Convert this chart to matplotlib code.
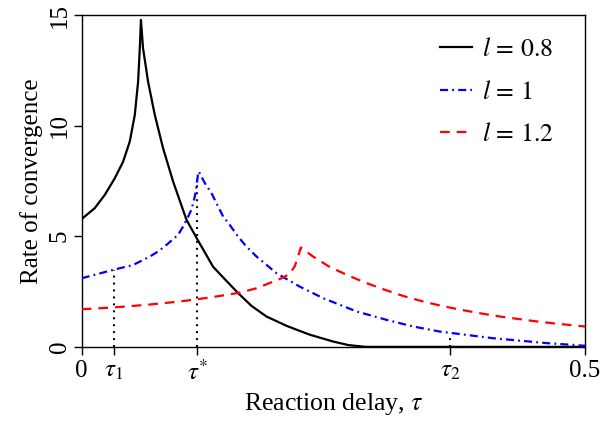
import matplotlib
matplotlib.use("Agg")
import matplotlib.pyplot as plt

plt.rcParams['font.family'] = ['Liberation Serif', 'DejaVu Serif']
plt.rcParams['mathtext.fontset'] = 'stix'
plt.rcParams['lines.scale_dashes'] = False

# l = 0.8 (black solid)
x_l08 = [0, 0.0129, 0.0229, 0.0328, 0.0411, 0.0477, 0.0527, 0.0560, 0.0577, 0.0588,
         0.0609, 0.0659, 0.0726, 0.0808, 0.0908, 0.1041, 0.115, 0.1305, 0.1438,
         0.1554, 0.1687, 0.1836, 0.2035, 0.2167, 0.2266, 0.2498, 0.265, 0.282, 0.5]
y_l08 = [5.78, 6.27, 6.87, 7.62, 8.37, 9.28, 10.48, 11.99, 13.5, 14.78,
         13.5, 11.99, 10.48, 8.98, 7.47, 5.74, 4.85, 3.62, 2.98,
         2.43, 1.85, 1.37, 0.95, 0.72, 0.55, 0.24, 0.08, 0.0, 0.0]

# l = 1 (blue dash-dot)
x_l1 = [0, 0.0311, 0.051, 0.0676, 0.0758, 0.0842, 0.0957, 0.1007, 0.1041, 0.109,
        0.1123, 0.114, 0.1156, 0.1163, 0.1206, 0.1223, 0.1289, 0.1339, 0.1405,
        0.1471, 0.1554, 0.1637, 0.1737, 0.1935, 0.2167, 0.2399, 0.2731, 0.3029,
        0.3293, 0.3559, 0.3824, 0.4088, 0.4354, 0.4619, 0.5]
y_l1 = [3.1, 3.48, 3.7, 4.08, 4.31, 4.61, 5.06, 5.44, 5.74, 6.2,
        6.79, 7.24, 7.85, 7.93, 7.55, 7.4, 6.95, 6.49, 5.89,
        5.51, 4.98, 4.53, 4.08, 3.33, 2.72, 2.2, 1.6, 1.22,
        0.92, 0.69, 0.54, 0.39, 0.28, 0.17, 0.05]

# l = 1.2 (red dashed)
x_l12 = [0, 0.0311, 0.0643, 0.0974, 0.1173, 0.1372, 0.1571, 0.1737, 0.1985,
         0.2068, 0.2117, 0.2157, 0.2177, 0.2299, 0.2468, 0.265, 0.283, 0.3012,
         0.3194, 0.3393, 0.3576, 0.3774, 0.3956, 0.4155, 0.4354, 0.4553, 0.4735, 0.5]
y_l12 = [1.70, 1.78, 1.9, 2.05, 2.17, 2.3, 2.45, 2.65, 3.1,
         3.3, 3.65, 4.2, 4.49, 4.08, 3.6, 3.22, 2.88, 2.58,
         2.3, 2.05, 1.85, 1.67, 1.52, 1.37, 1.25, 1.13, 1.04, 0.92]

# special delays and the heights of their dotted markers
tau_marks = [0.0317, 0.115, 0.366]
tau_heights = [3.48, 7.6, 0.6]
xtick_vals = [0, 0.0317, 0.115, 0.366, 0.5]
xtick_labels = ['0', r'$\tau_1$', r'$\tau^{*}$', r'$\tau_2$', '0.5']
ytick_vals = [0, 5, 10, 15]

fig = plt.figure(figsize=(6.10, 4.23), dpi=100)
ax = fig.add_axes([0.134, 0.180, 0.825, 0.7845])

for t, h in zip(tau_marks, tau_heights):
    ax.plot([t, t], [0, h], color='black', lw=1.5, dashes=(1.4, 3.6), zorder=1)

ax.plot(x_l08, y_l08, color='black', lw=1.6, label=r'$l\,=\,0.8$', zorder=3)
ax.plot(x_l1, y_l1, color='blue', lw=1.6, dashes=(5.8, 3.0, 1.3, 3.0), label=r'$l\,=\,1$', zorder=3)
ax.plot(x_l12, y_l12, color='red', lw=1.6, dashes=(7.0, 5.0), label=r'$l\,=\,1.2$', zorder=3)

ax.set_xlim(0, 0.5)
ax.set_ylim(0, 15)
ax.set_xticks(xtick_vals)
ax.set_xticklabels(xtick_labels)
ax.set_yticks(ytick_vals)
ax.set_yticklabels([str(v) for v in ytick_vals], rotation=90, va='center')
ax.tick_params(direction='out', length=6, width=1, labelsize=18, colors='black')
ax.tick_params(axis='y', pad=2)
for s in ax.spines.values():
    s.set_linewidth(1.0)

ax.set_xlabel(r'Reaction delay, $\tau$', fontsize=18.5, labelpad=4)
ax.set_ylabel('Rate of convergence', fontsize=18, labelpad=4)

leg = ax.legend(loc='upper right', frameon=False, fontsize=18.5, handlelength=1.25,
                labelspacing=0.76, handletextpad=0.4, borderaxespad=0.5,
                bbox_to_anchor=(0.985, 1.0))

fig.savefig('out.png', dpi=100)
